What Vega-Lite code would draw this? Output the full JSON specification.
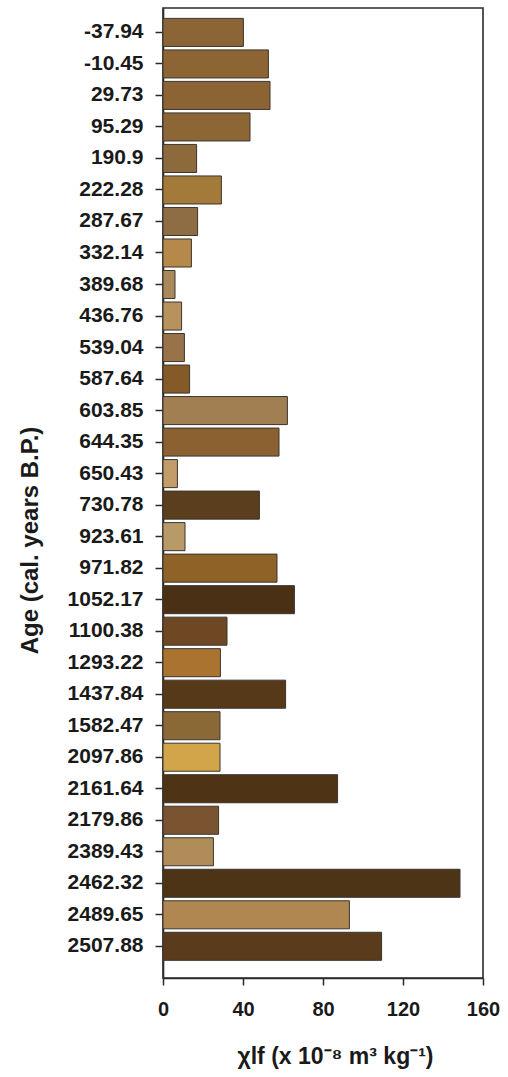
{
  "$schema": "https://vega.github.io/schema/vega-lite/v6.json",
  "width": 320,
  "height": 970,
  "autosize": {"type": "none"},
  "padding": {"left": 163, "top": 8, "right": 24, "bottom": 99},
  "background": "white",
  "config": {
    "view": {"stroke": "#2b2b2b", "strokeWidth": 1.6},
    "font": "Liberation Sans"
  },
  "data": {
    "values": [
      {"age": "-37.94", "chi": 40.2},
      {"age": "-10.45", "chi": 52.7},
      {"age": "29.73", "chi": 53.5},
      {"age": "95.29", "chi": 43.5},
      {"age": "190.9", "chi": 16.8},
      {"age": "222.28", "chi": 29.2},
      {"age": "287.67", "chi": 17.3},
      {"age": "332.14", "chi": 14.2},
      {"age": "389.68", "chi": 6.0},
      {"age": "436.76", "chi": 9.3},
      {"age": "539.04", "chi": 10.7},
      {"age": "587.64", "chi": 13.3},
      {"age": "603.85", "chi": 62.2},
      {"age": "644.35", "chi": 58.0},
      {"age": "650.43", "chi": 7.2},
      {"age": "730.78", "chi": 48.2},
      {"age": "923.61", "chi": 11.0},
      {"age": "971.82", "chi": 57.0},
      {"age": "1052.17", "chi": 65.7},
      {"age": "1100.38", "chi": 32.0},
      {"age": "1293.22", "chi": 28.7},
      {"age": "1437.84", "chi": 61.3},
      {"age": "1582.47", "chi": 28.5},
      {"age": "2097.86", "chi": 28.5},
      {"age": "2161.64", "chi": 87.3},
      {"age": "2179.86", "chi": 27.8},
      {"age": "2389.43", "chi": 25.2},
      {"age": "2462.32", "chi": 148.5},
      {"age": "2489.65", "chi": 93.2},
      {"age": "2507.88", "chi": 109.3}
    ]
  },
  "mark": {"type": "bar", "stroke": "#3a3530", "strokeWidth": 1},
  "encoding": {
    "y": {
      "field": "age",
      "type": "nominal",
      "sort": null,
      "scale": {"paddingInner": 0.11, "paddingOuter": 0.445, "align": 0.37},
      "axis": {
        "title": "Age (cal. years B.P.)",
        "titleFont": "Liberation Sans",
        "titleFontSize": 24,
        "titleFontWeight": "bold",
        "titleColor": "#1a1a1a",
        "titleX": -133,
        "titleY": 532,
        "titleBaseline": "middle",
        "labelFont": "Liberation Sans",
        "labelFontSize": 21,
        "labelFontWeight": "bold",
        "labelColor": "#1a1a1a",
        "labelPadding": 12,
        "tickSize": 8,
        "tickWidth": 1.5,
        "tickColor": "#2b2b2b",
        "domainColor": "#2b2b2b",
        "domainWidth": 1.6
      }
    },
    "x": {
      "field": "chi",
      "type": "quantitative",
      "scale": {"domain": [0, 160], "nice": false},
      "axis": {
        "values": [0, 40, 80, 120, 160],
        "grid": false,
        "title": "χlf (x 10⁻⁸ m³ kg⁻¹)",
        "titleFont": "Liberation Sans",
        "titleFontSize": 23,
        "titleFontWeight": "bold",
        "titleColor": "#1a1a1a",
        "titleX": 172,
        "titleY": 85,
        "titleBaseline": "alphabetic",
        "labelFont": "Liberation Sans",
        "labelFontSize": 20,
        "labelFontWeight": "bold",
        "labelColor": "#1a1a1a",
        "labelPadding": 14,
        "labelFlush": false,
        "tickSize": 7,
        "tickWidth": 1.5,
        "tickColor": "#2b2b2b",
        "domainColor": "#2b2b2b",
        "domainWidth": 1.6
      }
    },
    "color": {
      "field": "age",
      "type": "nominal",
      "legend": null,
      "scale": {
        "domain": ["-37.94", "-10.45", "29.73", "95.29", "190.9", "222.28", "287.67", "332.14", "389.68", "436.76", "539.04", "587.64", "603.85", "644.35", "650.43", "730.78", "923.61", "971.82", "1052.17", "1100.38", "1293.22", "1437.84", "1582.47", "2097.86", "2161.64", "2179.86", "2389.43", "2462.32", "2489.65", "2507.88"],
        "range": ["#8b6535", "#8d6433", "#8c6332", "#8d6636", "#8d6a3b", "#a47a3a", "#8f6d44", "#b5894a", "#a9895a", "#b8925c", "#987349", "#845a28", "#a27f52", "#8b6131", "#c29c69", "#5b3e1d", "#b89a68", "#8f6228", "#4a3115", "#6e4822", "#aa7430", "#563918", "#8b6937", "#d2a54b", "#4e3315", "#7a5431", "#b08c58", "#4e3416", "#b08750", "#5a3c1c"]
      }
    }
  }
}
